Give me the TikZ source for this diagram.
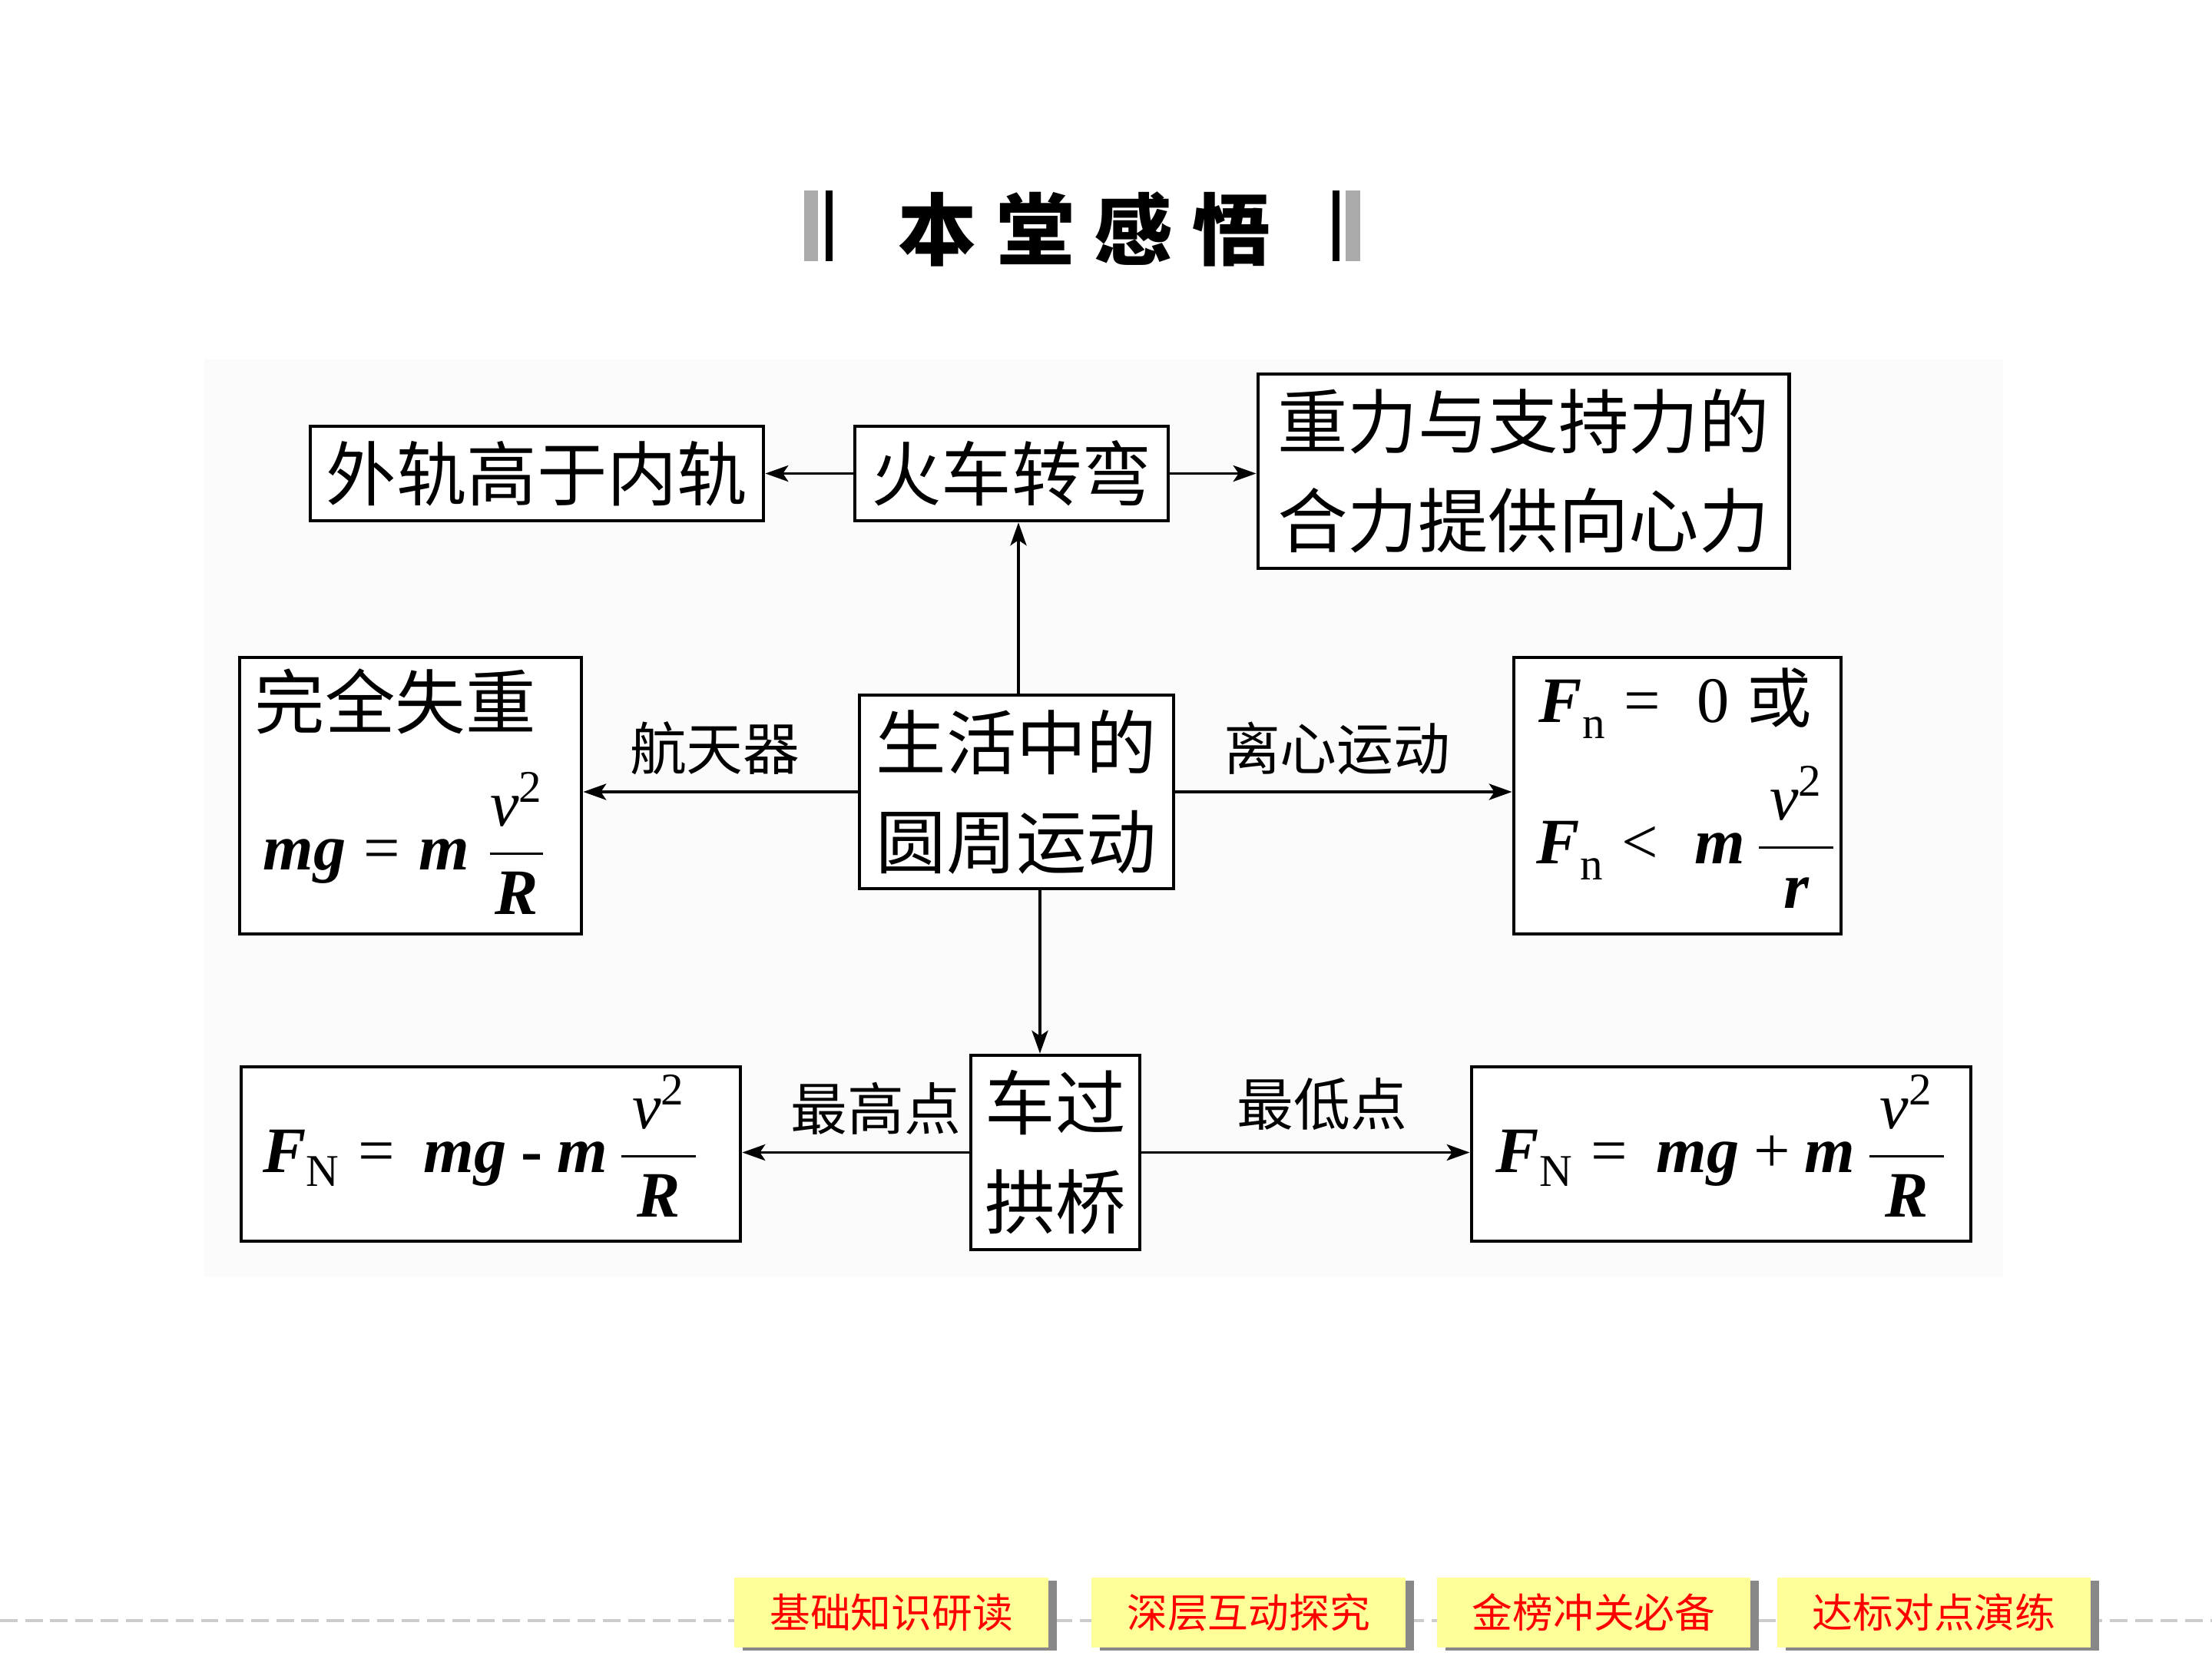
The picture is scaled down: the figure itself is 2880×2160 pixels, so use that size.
\documentclass[tikz,border=0pt]{standalone}
\usepackage{fix-cm}
\usepackage{fontspec}
\usepackage{amsmath}
\usetikzlibrary{arrows.meta,calc,shadows}
\newfontfamily\cjk{Noto Sans CJK SC}
\newfontfamily\tnr{Liberation Serif}
\newcommand\bi[1]{{\tnr\bfseries\itshape #1}}
\newcommand\ti[1]{{\tnr\itshape #1}}
\definecolor{btnyellow}{HTML}{FFFF99}
\definecolor{btnshadow}{HTML}{888888}
\definecolor{btnred}{HTML}{FF0000}
\definecolor{dashgray}{HTML}{CCCCCC}
\definecolor{bargray}{HTML}{AAAAAA}
\definecolor{panel}{HTML}{FBFBFB}
\tikzset{
  box/.style={draw=black, line width=1.3pt, fill=white, inner sep=0pt, align=center,
    font=\cjk\fontsize{26}{36.7}\selectfont},
  cjkt/.style={inner sep=0pt, font=\cjk\fontsize{26}{36.7}\selectfont},
  fm/.style={inner sep=0pt, font=\fontsize{24}{28}\selectfont},
  lbl/.style={inner sep=0pt, font=\cjk\fontsize{21}{24}\selectfont},
  arr/.style={-{Stealth[length=8.5pt,width=6pt,inset=2pt]}, line width=1pt},
  btn/.style={fill=btnyellow, inner sep=0pt, minimum width=4.08cm, minimum height=0.91cm,
    text=btnred, font=\cjk\fontsize{15}{18}\selectfont,
    general shadow={fill=btnshadow, shadow xshift=3.1pt, shadow yshift=-1.1pt}},
  dashline/.style={draw=dashgray, line width=1pt, dash pattern=on 6.5pt off 2.8pt},
  titlefont/.style={inner sep=0pt, font=\cjk\bfseries\fontsize{29}{32}\selectfont}
}
\begin{document}
\begin{tikzpicture}[x=0.01cm,y=-0.01cm]
\useasboundingbox (0,0) rectangle (2880,2160);
\fill[white] (0,0) rectangle (2880,2160);
% faint panel
\fill[panel] (266,468) rectangle (2608,1662);

% title
\fill[bargray] (1047,248) rectangle (1065,340);
\fill[black] (1075,248) rectangle (1084,340);
\fill[black] (1735,248) rectangle (1744,340);
\fill[bargray] (1752,248) rectangle (1771,340);
\node[titlefont] (title) at (1412,298) {本\hspace{7.3pt}堂\hspace{7.3pt}感\hspace{7.3pt}悟};

% boxes
\node[box, minimum width=5.9cm, minimum height=1.23cm] (wai) at (699,616.5) {外轨高于内轨};
\node[box, minimum width=4.08cm, minimum height=1.23cm] (huo) at (1317,616.5) {火车转弯};
\node[box, minimum width=6.91cm, minimum height=2.53cm] (zhong) at (1983.5,613.5) {重力与支持力的\\合力提供向心力};
\node[box, minimum width=4.45cm, minimum height=3.6cm] (shi) at (534.5,1036) {};
\node[box, minimum width=4.09cm, minimum height=2.52cm] (sheng) at (1323.5,1031) {生活中的\\圆周运动};
\node[box, minimum width=4.26cm, minimum height=3.6cm] (fn) at (2184,1036) {};
\node[box, minimum width=6.5cm, minimum height=2.27cm] (bl) at (639,1502.5) {};
\node[box, minimum width=2.2cm, minimum height=2.53cm] (che) at (1374,1500.5) {车过\\拱桥};
\node[box, minimum width=6.5cm, minimum height=2.27cm] (br) at (2241,1502.5) {};

% box contents
\node[cjkt, anchor=west] (shit) at (331,913) {完全失重};
\node[fm, anchor=west] (shif) at (342,1098)
  {$\text{\bi{mg}}\mathrel{\text{\tnr =}}\text{\bi{m}}\;\dfrac{\text{\ti{v}}^{\text{\tnr 2}}}{\text{\bi{R}}}$};
\node[fm, anchor=base west] (fn1) at (2003,940)
  {$\text{\bi{F}}_{\text{\raisebox{-2.5pt}{\tnr n}}}\mathrel{\text{\tnr =}}\;\text{\tnr 0}\;\text{\cjk 或}$};
\node[fm, anchor=west] (fn2) at (2000,1090)
  {$\text{\bi{F}}_{\text{\raisebox{-2.5pt}{\tnr n}}}\mathrel{\text{\tnr <}}\;\text{\bi{m}}\,\dfrac{\,\text{\ti{v}}^{\text{\tnr 2}}\,}{\text{\bi{r}}}$};
\node[fm, anchor=west] (blf) at (342,1492)
  {$\text{\bi{F}}_{\text{\raisebox{-1.5pt}{\tnr N}}}\mathrel{\text{\tnr =}}\,\text{\bi{mg}}\mathbin{\text{\tnr\bfseries -}}\text{\bi{m}}\,\dfrac{\,\text{\ti{v}}^{\text{\tnr 2}}\,}{\text{\bi{R}}}$};
\node[fm, anchor=west] (brf) at (1947,1492)
  {$\text{\bi{F}}_{\text{\raisebox{-1.5pt}{\tnr N}}}\mathrel{\text{\tnr =}}\,\text{\bi{mg}}\mathbin{\text{\tnr +}}\text{\bi{m}}\,\dfrac{\,\text{\ti{v}}^{\text{\tnr 2}}\,}{\text{\bi{R}}}$};

% connectors
\draw[arr] (huo.west) -- (huo.west -| wai.east);
\draw[arr] (huo.east) -- (huo.east -| zhong.west);
\coordinate (u1) at ($(sheng.north)+(2.5,0)$);
\draw[arr] (u1) -- (u1 |- huo.south);
\draw[arr] (sheng.west) -- (sheng.west -| shi.east)
  node[lbl, pos=0.52, yshift=16.2pt] (l1) {航天器};
\draw[arr] (sheng.east) -- (sheng.east -| fn.west)
  node[lbl, pos=0.48, yshift=16.2pt] (l2) {离心运动};
\coordinate (d1) at ($(sheng.south)+(30.5,0)$);
\draw[arr] (d1) -- (d1 |- che.north);
\draw[arr] (che.west) -- (che.west -| bl.east)
  node[lbl, pos=0.41, yshift=16.2pt] (l3) {最高点};
\draw[arr] (che.east) -- (che.east -| br.west)
  node[lbl, pos=0.55, yshift=17.8pt] (l4) {最低点};

% bottom navigation
\draw[dashline] (0,2110) -- (2880,2110);
\node[btn] (b1) at (1160.5,2099.5) {基础知识研读};
\node[btn] (b2) at (1625.5,2099.5) {深层互动探究};
\node[btn] (b3) at (2075,2099.5) {金榜冲关必备};
\node[btn] (b4) at (2518,2099.5) {达标对点演练};
\end{tikzpicture}
\end{document}
